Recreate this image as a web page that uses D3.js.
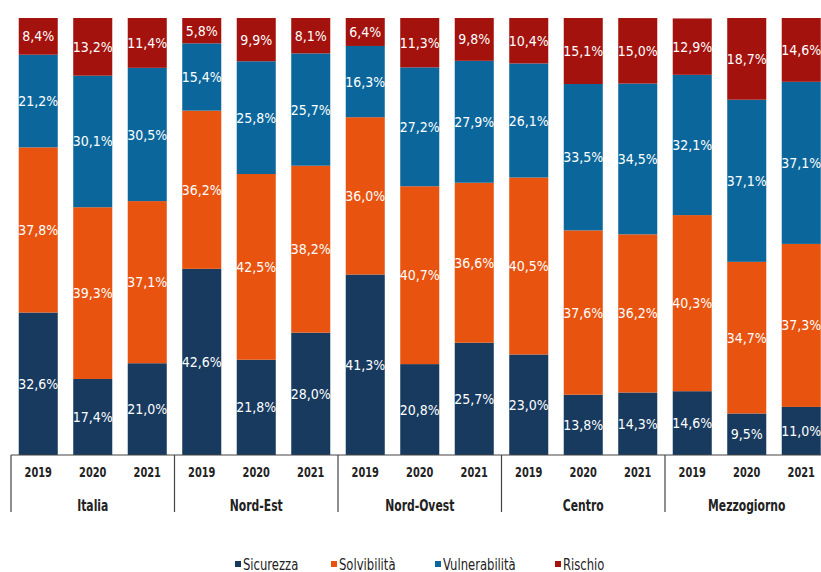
<!DOCTYPE html>
<html>
<head>
<meta charset="utf-8">
<script src="https://cdn.jsdelivr.net/npm/d3@7"></script>
<style>
  body { margin: 0; background: #fff; }
  svg { display: block; }
  text { font-family: "Liberation Sans Narrow", "DejaVu Sans Condensed", "Roboto", sans-serif; }
</style>
</head>
<body>
<svg id="chart" width="821" height="572"></svg>
<script>
// ---- data ----
const groups = ["Italia", "Nord-Est", "Nord-Ovest", "Centro", "Mezzogiorno"]
const years = ["2019", "2020", "2021"]
const seriesNames = ["Sicurezza", "Solvibilità", "Vulnerabilità", "Rischio"]
const colors = ["#173a5e", "#e8530f", "#0b679b", "#a3120d"]

// one value per bar, in order group x year
const sicurezza     = [32.6, 17.4, 21.0, 42.6, 21.8, 28.0, 41.3, 20.8, 25.7, 23.0, 13.8, 14.3, 14.6, 9.5, 11.0]
const solvibilita   = [37.8, 39.3, 37.1, 36.2, 42.5, 38.2, 36.0, 40.7, 36.6, 40.5, 37.6, 36.2, 40.3, 34.7, 37.3]
const vulnerabilita = [21.2, 30.1, 30.5, 15.4, 25.8, 25.7, 16.3, 27.2, 27.9, 26.1, 33.5, 34.5, 32.1, 37.1, 37.1]
const rischio       = [8.4, 13.2, 11.4, 5.8, 9.9, 8.1, 6.4, 11.3, 9.8, 10.4, 15.1, 15.0, 12.9, 18.7, 14.6]

const rows = []
groups.forEach((g, gi) => {
    years.forEach((y, yi) => {
        const i = gi * 3 + yi
        rows.push({
            group: g, year: y,
            Sicurezza: sicurezza[i],
            "Solvibilità": solvibilita[i],
            "Vulnerabilità": vulnerabilita[i],
            Rischio: rischio[i]
        })
    })
})

// ---- layout ----
const svg = d3.select("#chart")
const axisY = 455
const topY = 18
const left = 11
const groupW = 163.5

const x0 = d3.scaleBand()
    .domain(groups)
    .range([left, left + groupW * groups.length])
    .paddingInner(0).paddingOuter(0)

const x1 = d3.scaleBand()
    .domain(years)
    .range([0, x0.bandwidth()])
    .paddingInner(0.284)
    .paddingOuter(0.142)

const y = d3.scaleLinear().domain([0, 100]).range([axisY, topY])

const color = d3.scaleOrdinal().domain(seriesNames).range(colors)

const stacked = d3.stack().keys(seriesNames)(rows)

const fmt = v => d3.format(".1f")(v).replace(".", ",") + "%"

// squeeze text horizontally to mimic the condensed font of the original
function squeeze(sel, k) {
    sel.each(function() {
        const w = this.getComputedTextLength()
        d3.select(this).attr("textLength", w * k).attr("lengthAdjust", "spacingAndGlyphs")
    })
}

// ---- bars ----
const layers = svg.append("g").attr("class", "bars")
    .selectAll("g")
    .data(stacked)
    .join("g")
    .attr("fill", d => color(d.key))

layers.selectAll("rect")
    .data(d => d)
    .join("rect")
    .attr("x", d => x0(d.data.group) + x1(d.data.year))
    .attr("y", d => y(d[1]))
    .attr("width", x1.bandwidth())
    .attr("height", d => y(d[0]) - y(d[1]))

// ---- value labels ----
layers.selectAll("text")
    .data(d => d.map(e => Object.assign({ key: d.key }, e)))
    .join("text")
    .attr("x", d => x0(d.data.group) + x1(d.data.year) + x1.bandwidth() / 2)
    .attr("y", d => (y(d[0]) + y(d[1])) / 2)
    .attr("dy", "0.36em")
    .attr("text-anchor", "middle")
    .attr("fill", "#ffffff")
    .attr("font-size", "14px")
    .text(d => fmt(d.data[d.key]))

// ---- x axis ----
const axis = svg.append("g").attr("class", "axis")
axis.append("line")
    .attr("x1", left).attr("x2", 821)
    .attr("y1", axisY).attr("y2", axisY)
    .attr("stroke", "#444").attr("stroke-width", 1.2)

const bounds = groups.map(g => x0(g)).concat([x0(groups[groups.length - 1]) + x0.bandwidth()])
axis.selectAll("line.sep")
    .data(bounds)
    .join("line")
    .attr("class", "sep")
    .attr("x1", d => d).attr("x2", d => d)
    .attr("y1", axisY).attr("y2", 512)
    .attr("stroke", "#444").attr("stroke-width", 1.2)

axis.selectAll("text.year")
    .data(rows)
    .join("text")
    .attr("class", "year")
    .attr("x", d => x0(d.group) + x1(d.year) + x1.bandwidth() / 2)
    .attr("y", 477)
    .attr("text-anchor", "middle")
    .attr("font-size", "14px")
    .attr("font-weight", "bold")
    .attr("fill", "#222")
    .text(d => d.year)
    .call(squeeze, 0.78)

axis.selectAll("text.group")
    .data(groups)
    .join("text")
    .attr("class", "group")
    .attr("x", d => x0(d) + x0.bandwidth() / 2)
    .attr("y", 511)
    .attr("text-anchor", "middle")
    .attr("font-size", "15px")
    .attr("font-weight", "bold")
    .attr("fill", "#222")
    .text(d => d)
    .call(squeeze, 0.8)

// ---- legend ----
const legendX = [235, 331, 435, 555]
const legend = svg.append("g").attr("class", "legend")
    .selectAll("g")
    .data(seriesNames)
    .join("g")
    .attr("transform", (d, i) => `translate(${legendX[i]},565)`)

legend.append("rect")
    .attr("x", 0).attr("y", -4)
    .attr("width", 6).attr("height", 6)
    .attr("fill", d => color(d))

legend.append("text")
    .attr("x", 8).attr("y", 0)
    .attr("dy", "0.36em")
    .attr("font-size", "15px")
    .attr("fill", "#222")
    .text(d => d)
    .call(squeeze, 0.86)
</script>
</body>
</html>
